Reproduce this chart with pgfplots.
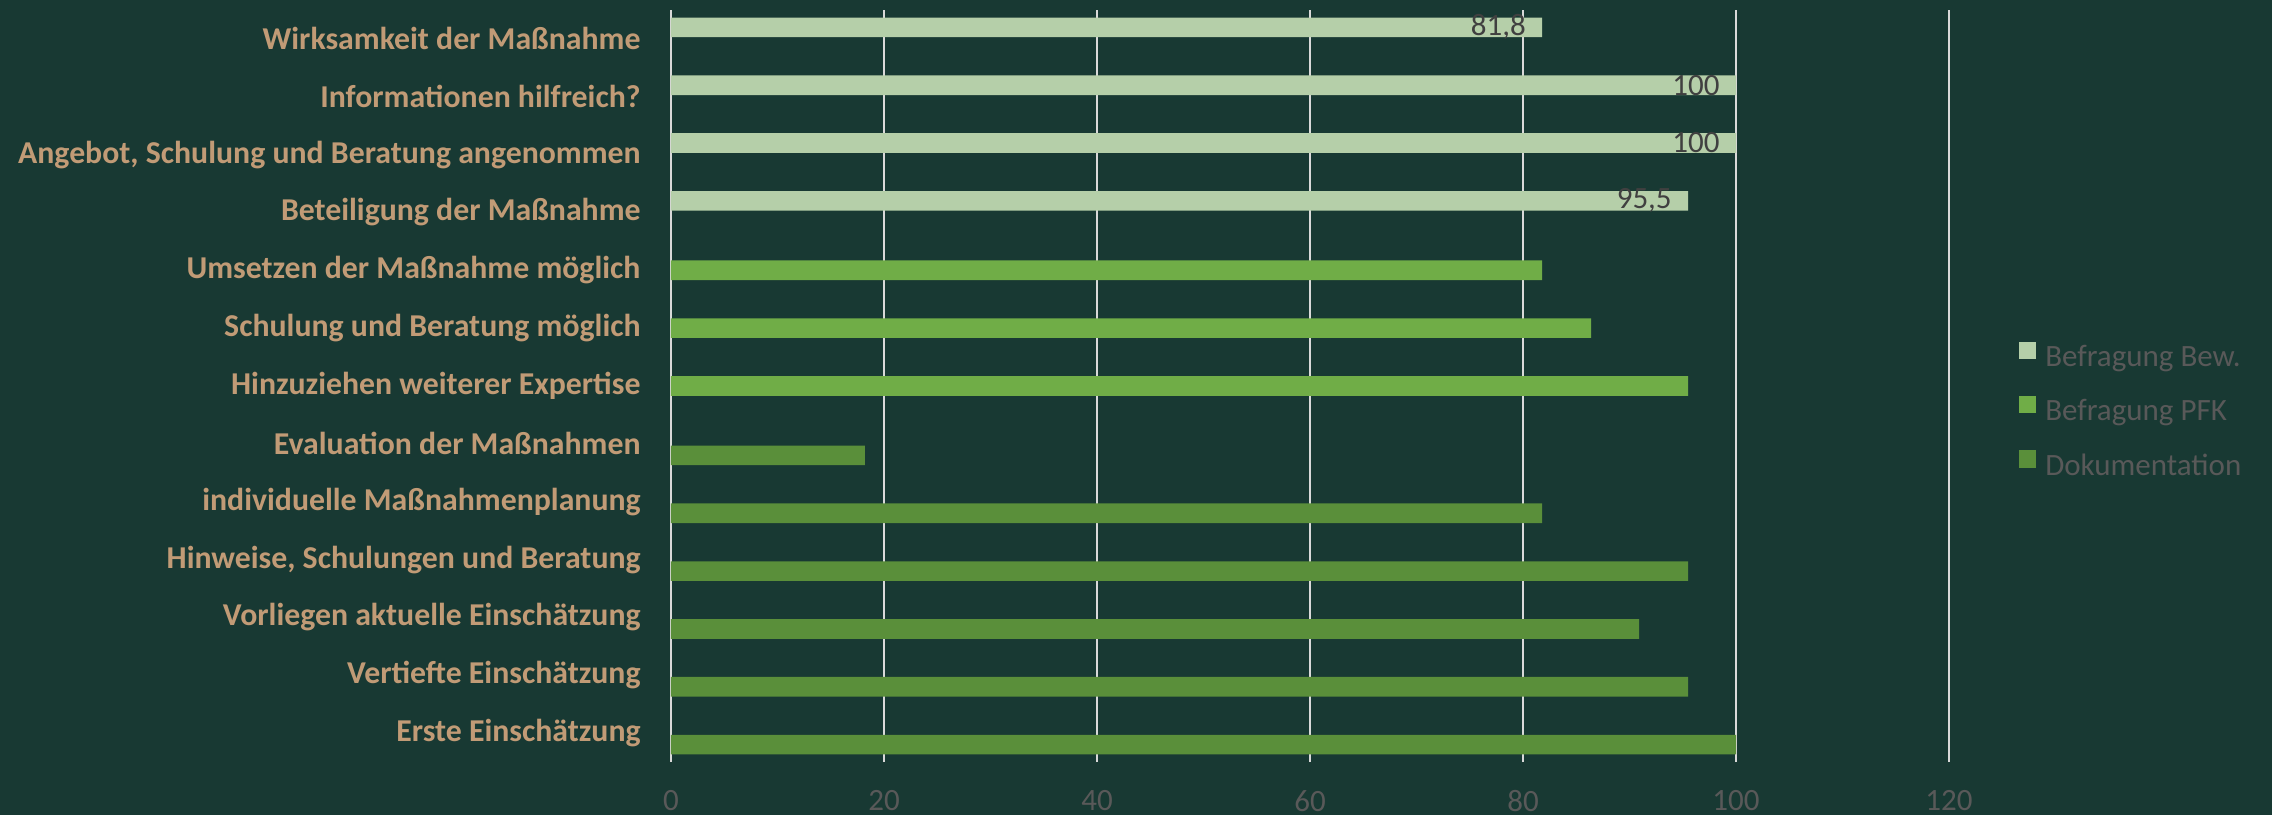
\documentclass[border=0pt]{standalone}
\usepackage{pgfplots}
\pgfplotsset{compat=1.18}
\usepackage{fontspec}
\setmainfont{Carlito}
\definecolor{bg}{RGB}{24,57,51}
\definecolor{labtan}{RGB}{193,155,118}
\definecolor{txtgray}{RGB}{89,89,89}
\definecolor{gridc}{RGB}{217,217,217}
\definecolor{cbew}{RGB}{181,207,169}
\definecolor{cpfk}{RGB}{112,173,71}
\definecolor{cdok}{RGB}{90,143,58}
\definecolor{dlab}{RGB}{64,64,64}
\newcommand{\fs}{\fontsize{15.5}{18}\selectfont}
\newcommand{\fb}{\fontsize{15.9}{18}\selectfont\bfseries}
\begin{document}
\begin{tikzpicture}
\fill[bg] (0,0) rectangle (1136pt,407.5pt);
\useasboundingbox (0,0) rectangle (1136pt,407.5pt);
\begin{axis}[
  at={(335.5pt,26.5pt)}, anchor=south west,
  scale only axis, width=639pt, height=376pt,
  xmin=0, xmax=120, ymin=-0.5, ymax=12.5,
  xtick={0,20,...,120},
  ytick={0,...,12},
  yticklabels={Erste Einschätzung, Vertiefte Einschätzung, Vorliegen aktuelle Einschätzung, {Hinweise, Schulungen und Beratung}, individuelle Maßnahmenplanung, Evaluation der Maßnahmen, Hinzuziehen weiterer Expertise, Schulung und Beratung möglich, Umsetzen der Maßnahme möglich, Beteiligung der Maßnahme, {Angebot, Schulung und Beratung angenommen}, Informationen hilfreich?, Wirksamkeit der Maßnahme},
  axis line style={draw=none},
  major tick length=0pt,
  xmajorgrids, ymajorgrids=false,
  grid style={gridc, line width=0.9pt},
  xticklabel style={font=\fs, text=txtgray, inner sep=0pt, yshift=-14pt},
  yticklabel style={font=\fb, text=labtan, inner sep=0pt, xshift=-15pt},
  /pgf/number format/assume math mode=true,
  xbar, bar width=0.34,
  legend style={at={(1.0542,0.5594)}, anchor=north west, draw=none, fill=none, inner sep=0pt,
    font=\fs, text=txtgray, row sep=11pt, cells={anchor=west},
    nodes={inner sep=0pt, text height=11pt, text depth=3.5pt},
    /tikz/every odd column/.append style={column sep=4.5pt}},
  legend image code/.code={\fill[#1,/tikz/.cd,bar shift=0pt] (0pt,0pt) rectangle (8.8pt,8.8pt);},
]
\addplot[fill=cbew, draw=none, bar shift=0.2,
  point meta=x,
  nodes near coords={\pgfmathprintnumber[use comma,fixed,precision=1]{\pgfplotspointmeta}},
  nodes near coords style={anchor=east, xshift=-8pt, inner sep=0pt, font=\fs, text=dlab}]
  coordinates {(81.8,12) (100,11) (100,10) (95.5,9)};
\addlegendentry{Befragung Bew.}
\addplot[fill=cpfk, draw=none, bar shift=0]
  coordinates {(81.8,8) (86.4,7) (95.5,6)};
\addlegendentry{Befragung PFK}
\addplot[fill=cdok, draw=none, bar shift=-0.2]
  coordinates {(18.2,5) (81.8,4) (95.5,3) (90.9,2) (95.5,1) (100,0)};
\addlegendentry{Dokumentation}
\end{axis}
\end{tikzpicture}
\end{document}
